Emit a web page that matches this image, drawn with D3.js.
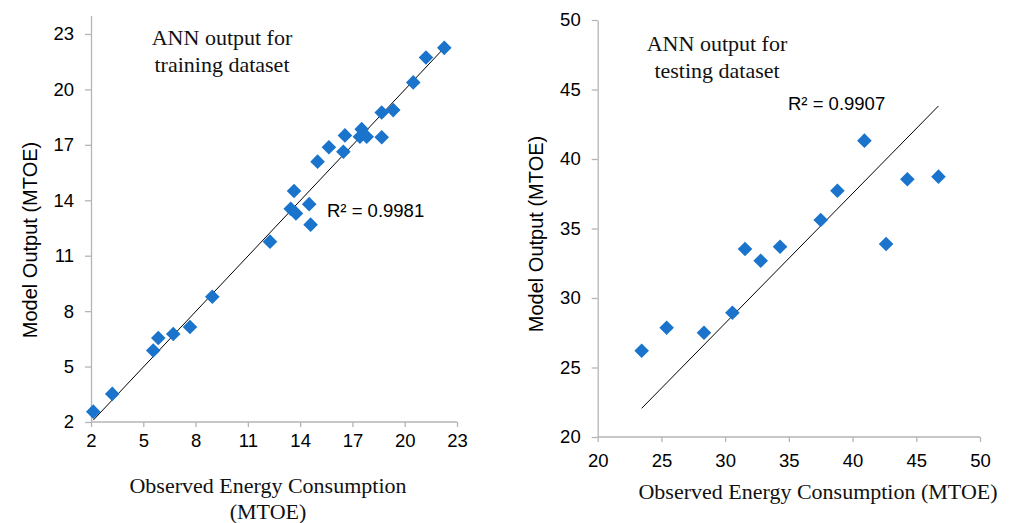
<!DOCTYPE html>
<html lang="en">
<head>
    <meta charset="UTF-8">
    <title>ANN output: training and testing</title>
    <script src="https://d3js.org/d3.v7.min.js"></script>
    <style>
        body { margin: 0; background: #fff; }
        svg { display: block; background: #fff; }
        .axis path, .axis line { stroke: #b5b5b5; stroke-width: 1.3px; }
        .axis text { font-family: "Liberation Sans", Arial, sans-serif; font-size: 18.5px; fill: #000; }
        .ytitle { font-family: "Liberation Sans", Arial, sans-serif; font-size: 20px; fill: #000; }
        .serif { font-family: "Liberation Serif", "DejaVu Serif", serif; font-size: 22px; fill: #111; }
        .r2 { font-family: "Liberation Sans", Arial, sans-serif; font-size: 18.5px; fill: #000; }
        .pt { fill: #1a74cc; }
    </style>
</head>
<body>
<svg id="chart" width="1011" height="523"></svg>
<script>
    // training set: observed vs model output (MTOE)
    const trainObserved = [2.13, 3.22, 5.57, 5.86, 6.72, 7.68, 8.96, 12.27, 13.46, 13.65, 13.76, 14.52, 14.60,
        15.0, 15.65, 16.48, 16.57, 17.43, 17.53, 17.82, 18.68, 18.68, 19.34, 20.49, 21.22, 22.27];
    const trainModel = [2.56, 3.52, 5.87, 6.55, 6.76, 7.14, 8.78, 11.76, 13.54, 14.50, 13.29, 13.79, 12.68,
        16.09, 16.87, 16.63, 17.51, 17.44, 17.85, 17.44, 17.41, 18.75, 18.88, 20.38, 21.73, 22.25];
    const trainTicks = [2, 5, 8, 11, 14, 17, 20, 23];
    const trainFit = { slope: 1.0005, intercept: -0.03, r2: "R² = 0.9981" };

    // testing set
    const testObserved = [23.45, 25.41, 28.34, 30.57, 31.56, 32.79, 34.31, 37.50, 38.81, 40.93, 42.63, 44.30, 46.74];
    const testModel = [26.21, 27.86, 27.50, 28.94, 33.53, 32.68, 33.69, 35.61, 37.72, 41.32, 33.88, 38.54, 38.73];
    const testTicks = [20, 25, 30, 35, 40, 45, 50];
    const testFit = { slope: 0.934, intercept: 0.16, r2: "R² = 0.9907" };

    const svg = d3.select("#chart");
    const diamond = "M0,-7.3L7.3,0L0,7.3L-7.3,0Z";

    function panel(cfg) {
        const x = d3.scaleLinear().domain(cfg.xDomain).range(cfg.xRange);
        const y = d3.scaleLinear().domain(cfg.yDomain).range(cfg.yRange);
        const g = svg.append("g");

        g.append("g")
            .attr("class", "axis")
            .attr("transform", `translate(0,${cfg.yRange[0]})`)
            .call(d3.axisBottom(x).tickValues(cfg.ticks).tickSize(5).tickSizeOuter(0).tickPadding(cfg.xPad))
            .call(a => a.select(".domain").attr("d", `M${cfg.xRange[0]},0H${cfg.xRange[1]}`));

        g.append("g")
            .attr("class", "axis")
            .attr("transform", `translate(${cfg.xRange[0]},0)`)
            .call(d3.axisLeft(y).tickValues(cfg.ticks).tickSize(6).tickSizeOuter(0).tickPadding(11));

        // trend line over the range of observed values
        const x0 = d3.min(cfg.obs), x1 = d3.max(cfg.obs);
        const f = v => cfg.fit.slope * v + cfg.fit.intercept;
        g.append("line")
            .attr("x1", x(x0)).attr("y1", y(f(x0)))
            .attr("x2", x(x1)).attr("y2", y(f(x1)))
            .attr("stroke", "#000").attr("stroke-width", 1);

        g.selectAll(".pt")
            .data(cfg.obs.map((d, i) => [d, cfg.model[i]]))
            .enter()
            .append("path")
            .attr("class", "pt")
            .attr("d", diamond)
            .attr("transform", d => `translate(${x(d[0])},${y(d[1])})`);

        g.append("text")
            .attr("class", "ytitle")
            .attr("transform", `translate(${cfg.yTitle[0]},${cfg.yTitle[1]}) rotate(-90)`)
            .attr("text-anchor", "middle")
            .text("Model Output (MTOE)");

        cfg.note.lines.forEach((t, i) => {
            g.append("text").attr("class", "serif")
                .attr("x", cfg.note.x).attr("y", cfg.note.y + i * 27)
                .attr("text-anchor", "middle").text(t);
        });

        cfg.xTitle.lines.forEach((t, i) => {
            g.append("text").attr("class", "serif")
                .attr("x", cfg.xTitle.x).attr("y", cfg.xTitle.y + i * 26)
                .attr("text-anchor", "middle").text(t);
        });

        g.append("text").attr("class", "r2")
            .attr("x", cfg.r2Pos[0]).attr("y", cfg.r2Pos[1])
            .text(cfg.fit.r2);
    }

    panel({
        xDomain: [2, 23], xRange: [91, 457],
        yDomain: [2, 24], yRange: [422, 15.5],
        ticks: trainTicks, xPad: 7,
        obs: trainObserved, model: trainModel, fit: trainFit,
        yTitle: [37, 240],
        note: { x: 222, y: 45, lines: ["ANN output for", "training dataset"] },
        xTitle: { x: 268, y: 493, lines: ["Observed Energy Consumption", "(MTOE)"] },
        r2Pos: [327, 217]
    });

    panel({
        xDomain: [20, 50], xRange: [597.7, 980],
        yDomain: [20, 50], yRange: [437, 20],
        ticks: testTicks, xPad: 12,
        obs: testObserved, model: testModel, fit: testFit,
        yTitle: [543, 234],
        note: { x: 717, y: 51, lines: ["ANN output for", "testing dataset"] },
        xTitle: { x: 818, y: 499, lines: ["Observed Energy Consumption (MTOE)"] },
        r2Pos: [788, 110]
    });
</script>
</body>
</html>
